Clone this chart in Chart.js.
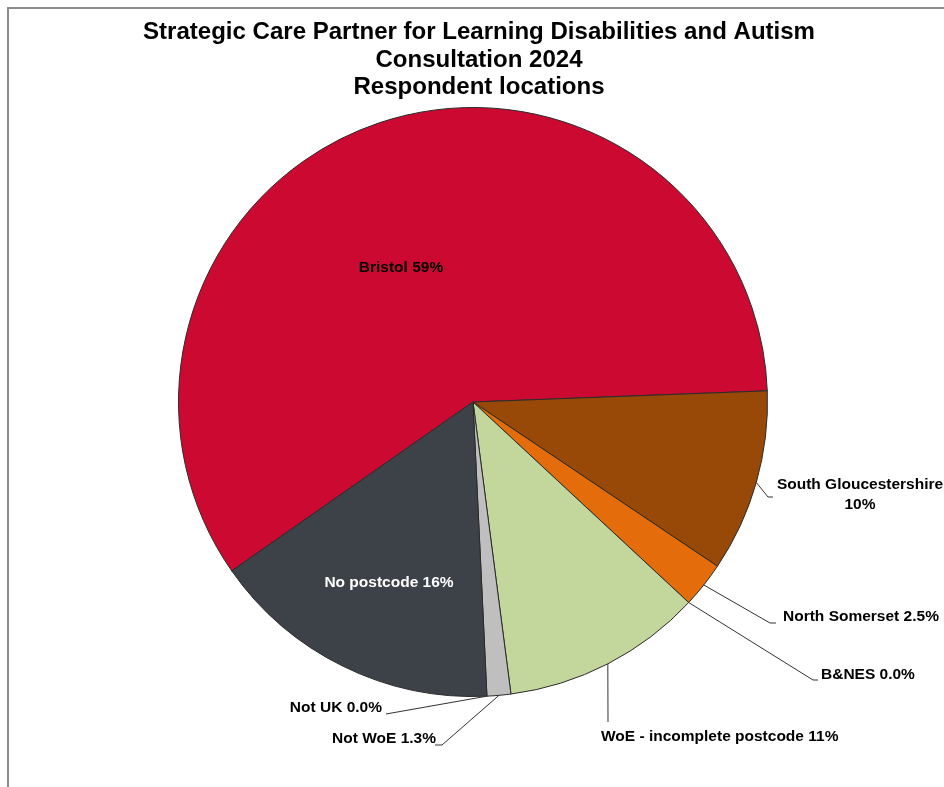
<!DOCTYPE html>
<html>
<head>
<meta charset="utf-8">
<script src="https://cdn.jsdelivr.net/npm/chart.js@4.4.1/dist/chart.umd.min.js"></script>
<style>
  html, body { margin: 0; padding: 0; background: #ffffff; }
  canvas { display: block; }
</style>
</head>
<body>
<canvas id="chart" width="944" height="787"></canvas>
<script>
// Chart content
const titleLines = [
  'Strategic Care Partner for Learning Disabilities and Autism',
  'Consultation 2024',
  'Respondent locations'
];
const categories = [
  'Bristol',
  'South Gloucestershire',
  'North Somerset',
  'B&NES',
  'WoE - incomplete postcode',
  'Not WoE',
  'Not UK',
  'No postcode'
];
const percentages = [59, 10, 2.5, 0, 11, 1.3, 0, 16];
const valueLabels = ['59%', '10%', '2.5%', '0.0%', '11%', '1.3%', '0.0%', '16%'];
const sliceColors = ['#CC0A31', '#984807', '#E46C0A', '#7F7F7F', '#C3D69B', '#BFBFBF', '#8EB4E3', '#3D4148'];

// Where each data label sits, and the bends of its leader line (if any)
const labelLayout = [
  { x: 401, y: 268, align: 'center', color: '#000000', split: false, leader: null },
  { x: 860, y: 485, align: 'center', color: '#000000', split: true,  leader: [[768, 497], [773, 497]] },
  { x: 783, y: 617, align: 'left',   color: '#000000', split: false, leader: [[770, 623], [776, 623]] },
  { x: 821, y: 675, align: 'left',   color: '#000000', split: false, leader: [[813, 680], [818, 680]] },
  { x: 601, y: 737, align: 'left',   color: '#000000', split: false, leader: [[608, 722]] },
  { x: 436, y: 739, align: 'right',  color: '#000000', split: false, leader: [[442, 745], [435, 745]] },
  { x: 382, y: 708, align: 'right',  color: '#000000', split: false, leader: [[386, 714]] },
  { x: 389, y: 583, align: 'center', color: '#FFFFFF', split: false, leader: null }
];

const LABEL_FONT = 'bold 15.5px "Liberation Sans", Arial, sans-serif';
const TITLE_FONT = 'bold 24px "Liberation Sans", Arial, sans-serif';

// White page with the grey chart-area frame along the top and left
const framePlugin = {
  id: 'frame',
  beforeDraw(chart) {
    const ctx = chart.ctx;
    ctx.save();
    ctx.fillStyle = '#ffffff';
    ctx.fillRect(0, 0, chart.width, chart.height);
    ctx.strokeStyle = '#8C8C8C';
    ctx.lineWidth = 2;
    ctx.beginPath();
    ctx.moveTo(8, chart.height);
    ctx.lineTo(8, 8);
    ctx.lineTo(chart.width, 8);
    ctx.stroke();
    ctx.restore();
  }
};

// Three-line condensed bold title
const titlePlugin = {
  id: 'condensedTitle',
  afterDraw(chart) {
    const ctx = chart.ctx;
    ctx.save();
    ctx.font = TITLE_FONT;
    ctx.fillStyle = '#000000';
    ctx.textBaseline = 'middle';
    ctx.textAlign = 'center';
    const natural = ctx.measureText(titleLines[0]).width;
    const sx = 672 / natural;
    const cx = 479;
    const ys = [32, 60, 87];
    titleLines.forEach((line, i) => {
      ctx.save();
      ctx.translate(cx, ys[i]);
      ctx.scale(sx, 1);
      ctx.fillText(line, 0, 0);
      ctx.restore();
    });
    ctx.restore();
  }
};

// Category + value labels with leader lines starting at each slice's outer edge
const sliceLabelPlugin = {
  id: 'sliceLabels',
  afterDatasetsDraw(chart) {
    const ctx = chart.ctx;
    const arcs = chart.getDatasetMeta(0).data;
    ctx.save();
    arcs.forEach((arc, i) => {
      const cfg = labelLayout[i];
      const p = arc.getProps(['x', 'y', 'startAngle', 'endAngle', 'outerRadius'], true);
      const mid = (p.startAngle + p.endAngle) / 2;
      if (cfg.leader) {
        ctx.strokeStyle = '#333333';
        ctx.lineWidth = 1;
        ctx.beginPath();
        ctx.moveTo(p.x + Math.cos(mid) * p.outerRadius, p.y + Math.sin(mid) * p.outerRadius);
        cfg.leader.forEach(pt => ctx.lineTo(pt[0], pt[1]));
        ctx.stroke();
      }
      ctx.font = LABEL_FONT;
      ctx.fillStyle = cfg.color;
      ctx.textAlign = cfg.align;
      ctx.textBaseline = 'middle';
      if (cfg.split) {
        ctx.fillText(categories[i], cfg.x, cfg.y);
        ctx.fillText(valueLabels[i], cfg.x, cfg.y + 20);
      } else {
        ctx.fillText(categories[i] + ' ' + valueLabels[i], cfg.x, cfg.y);
      }
    });
    ctx.restore();
  }
};

new Chart(document.getElementById('chart'), {
  type: 'pie',
  data: {
    labels: categories,
    datasets: [{
      data: percentages,
      backgroundColor: sliceColors,
      borderColor: '#2B2B2B',
      borderWidth: 1
    }]
  },
  options: {
    responsive: false,
    animation: false,
    rotation: -125,
    layout: { padding: { left: 178, right: 176, top: 107, bottom: 90 } },
    plugins: {
      legend: { display: false },
      title: { display: false },
      tooltip: { enabled: false }
    }
  },
  plugins: [framePlugin, titlePlugin, sliceLabelPlugin]
});
</script>
</body>
</html>
